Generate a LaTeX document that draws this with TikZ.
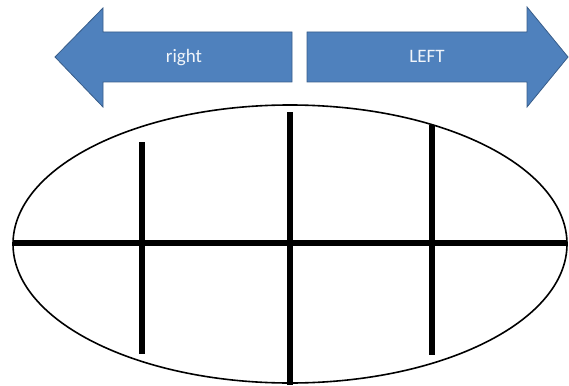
\documentclass[tikz,border=0pt]{standalone}
\usepackage{fontspec}
\setmainfont{Carlito}
\usetikzlibrary{positioning}
\definecolor{arrowblue}{RGB}{79,129,189}
\definecolor{arrowedge}{RGB}{56,93,138}

\begin{document}
\begin{tikzpicture}[
    x=1pt, y=-1pt,
    blockarrow/.style={fill=arrowblue, draw=arrowedge, line width=0.8pt},
    arrowtext/.style={text=white!92!arrowblue, font=\fontsize{19}{22}\selectfont},
    outline/.style={line width=1.6pt},
    thickline/.style={line width=5.5pt}
]
\useasboundingbox (0,0) rectangle (569,385);

% Block arrows
\draw[blockarrow] (292,32) -- (103,32) -- (103,8) -- (55,57) -- (103,107) -- (103,82) -- (292,82) -- cycle;
\draw[blockarrow] (307,32) -- (527,32) -- (527,7) -- (568,57) -- (527,107) -- (527,82) -- (307,82) -- cycle;

% Labels
\node[arrowtext] (rightlabel) at (184,58) {right};
\node[arrowtext] (leftlabel) at (427,56) {LEFT};

% Ellipse
\draw[outline] (290,244) ellipse [x radius=277pt, y radius=139pt];

% Cross lines
\draw[thickline] (13,243) -- (567,243);
\draw[thickline] (142,142) -- (142,354);
\draw[thickline] (290,112) -- (290,385);
\draw[thickline] (432,125) -- (432,355);

\end{tikzpicture}
\end{document}
